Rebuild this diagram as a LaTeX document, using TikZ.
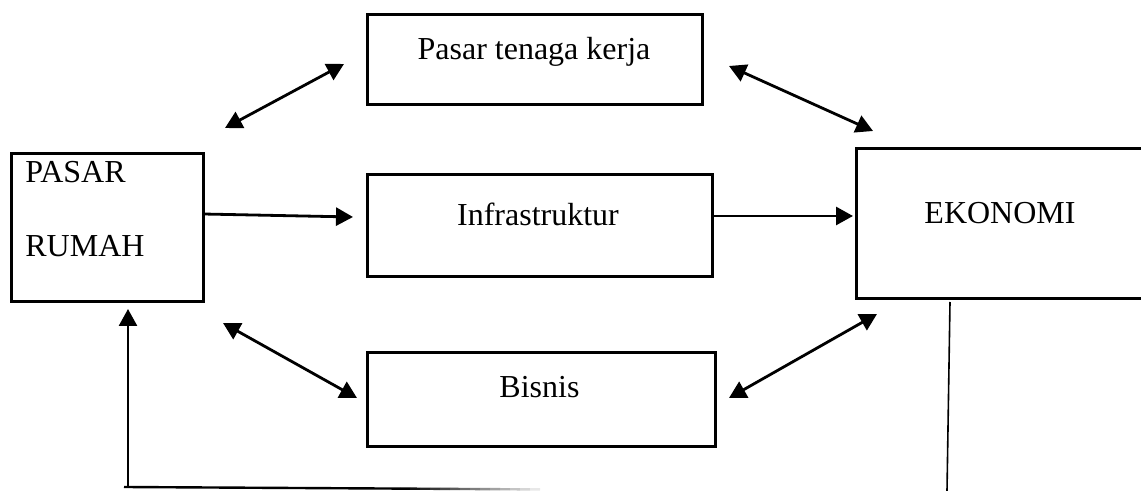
\documentclass[tikz,border=0pt]{standalone}
\usepackage{fontspec}
\setmainfont{Liberation Serif}
\usetikzlibrary{arrows.meta}
\tikzset{
  box/.style={draw=black, line width=1.5pt, rectangle, inner sep=0pt, fill=none},
  lbl/.style={inner sep=0pt, anchor=base, font=\fontsize{16}{19}\selectfont},
  conn/.style={line width=1.4pt, -{Triangle[length=8.5pt,width=9pt]}},
  biconn/.style={line width=1.4pt, {Triangle[length=8.5pt,width=9pt]}-{Triangle[length=8.5pt,width=9pt]}},
  thin/.style={line width=0.8pt}
}
\begin{document}
\begin{tikzpicture}[x=0.5pt,y=-0.5pt]
\useasboundingbox (0,0) rectangle (1141,491);
\clip (0,0) rectangle (1141,491);
\fill[white] (0,0) rectangle (1141,491);
% boxes
\node[box, minimum width=167.5pt, minimum height=45pt] (ptk) at (534.5,60) {};
\node[box, minimum width=172.5pt, minimum height=51pt] (inf) at (539.5,226) {};
\node[box, minimum width=174pt, minimum height=47pt] (bis) at (541,400) {};
\node[box, minimum width=147pt, minimum height=75pt] (eko) at (1003,224) {};
\node[box, minimum width=96pt, minimum height=74pt] (pr) at (107,228) {};
% texts
\node[lbl] (tptk) at (534,60) {Pasar tenaga kerja};
\node[lbl] (tinf) at (538,226) {Infrastruktur};
\node[lbl] (tbis) at (539.5,398) {Bisnis};
\node[lbl] (teko) at (1000,224) {EKONOMI};
\node[lbl, anchor=base west] (tpr1) at (25,183) {PASAR};
\node[lbl, anchor=base west] (tpr2) at (25,257) {RUMAH};
% connector end points
\coordinate (a1s) at (225,128); \coordinate (a1e) at (344,64);
\coordinate (a2s) at (729,66);  \coordinate (a2e) at (873,131);
\coordinate (a3s) at (203,214); \coordinate (a3e) at (353,217);
\coordinate (a4s) at (713,216); \coordinate (a4e) at (853,216);
\coordinate (a5s) at (223,323); \coordinate (a5e) at (357,398);
\coordinate (a6s) at (729,398); \coordinate (a6e) at (877,314);
\coordinate (vb) at (128,487);  \coordinate (vt) at (128,309);
\coordinate (ekb) at (950,302); \coordinate (ekd) at (947,491);
\coordinate (hl) at (124,487);  \coordinate (hm) at (400,488.6);
% connectors
\draw[biconn] (a1s) -- (a1e);
\draw[biconn] (a2s) -- (a2e);
\draw[conn] (a3s) -- (a3e);
\draw[conn] (a4s) -- (a4e);
\draw[biconn] (a5s) -- (a5e);
\draw[biconn] (a6s) -- (a6e);
\draw[conn, line width=1.3pt] (vb) -- (vt);
\draw[thin] (ekb) -- (ekd);
\draw[line width=1.2pt] (hl) -- (hm);
\foreach \i in {0,...,13} {
  \pgfmathsetmacro{\xa}{400+\i*10}
  \pgfmathsetmacro{\xb}{410+\i*10}
  \pgfmathsetmacro{\ya}{488.6+\i*0.06}
  \pgfmathsetmacro{\yb}{488.66+\i*0.06}
  \pgfmathsetmacro{\gr}{100-\i*7}
  \draw[line width=1.2pt, black!\gr] (\xa,\ya) -- (\xb,\yb);
}
\end{tikzpicture}
\end{document}
